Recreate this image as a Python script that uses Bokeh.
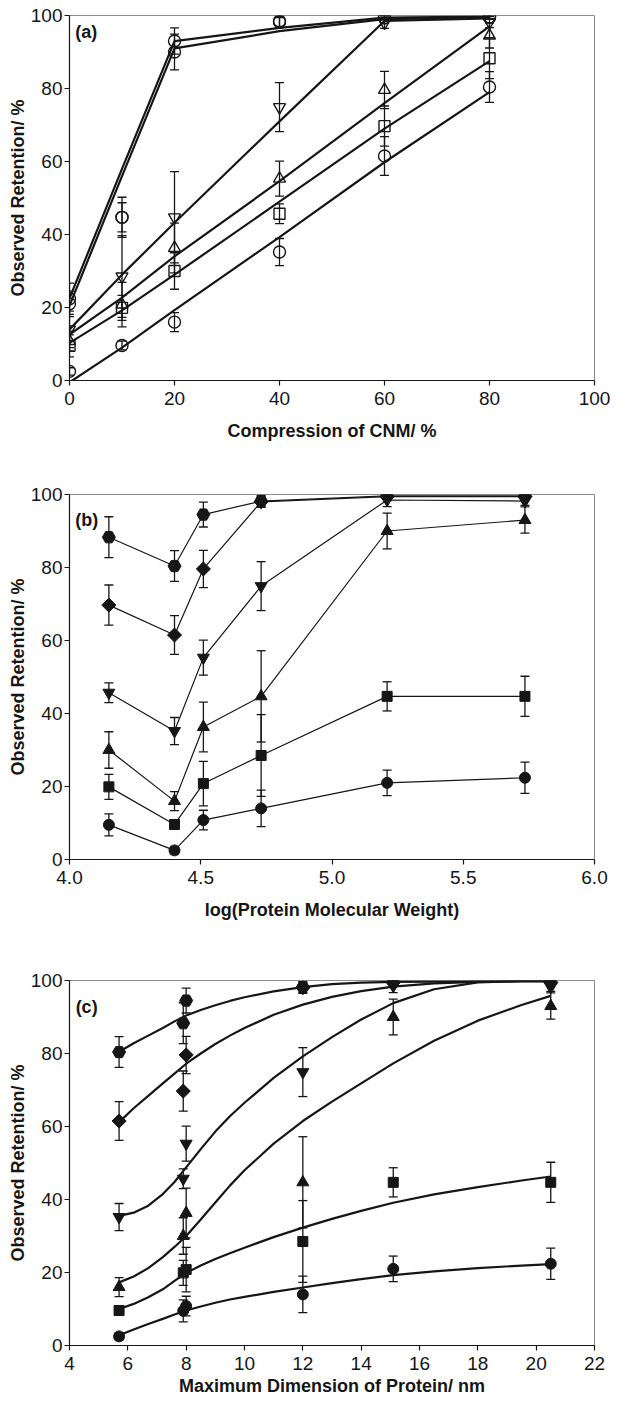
import numpy as np
from bokeh.plotting import figure
from bokeh.layouts import column
from bokeh.models import (Range1d, FixedTicker, PrintfTickFormatter, Whisker,
                          TeeHead, ColumnDataSource, Label)
from bokeh.embed import file_html
from bokeh.resources import INLINE

# ---------------- data ----------------
# six proteins
log_mw = [4.15, 4.40, 4.51, 4.73, 5.21, 5.735]
max_dim = [7.9, 5.7, 8.0, 12.0, 15.1, 20.5]
compression = [0, 10, 20, 40, 60, 80]

# observed retention [%] for each compression level, per protein
ret_c0 = [9.5, 2.5, 10.8, 14.0, 21.0, 22.4]
ret_c10 = [19.9, 9.6, 20.8, 28.5, 44.7, 44.7]
ret_c20 = [30.0, 16.0, 36.3, 44.7, 90.0, 93.0]
ret_c40 = [45.7, 35.2, 55.3, 74.9, 98.5, 98.2]
ret_c60 = [69.7, 61.5, 79.6, 98.0, 99.4, 99.4]
ret_c80 = [88.3, 80.4, 94.5, 98.2, 99.6, 99.6]

err_c0 = [3.0, 1.0, 2.7, 5.0, 3.5, 4.3]
err_c10 = [3.4, 1.2, 6.1, 11.2, 4.0, 5.5]
err_c20 = [5.0, 2.6, 6.8, 12.5, 4.9, 3.6]
err_c40 = [2.7, 3.7, 4.8, 6.7, 1.8, 1.2]
err_c60 = [5.5, 5.3, 5.1, 1.5, 0.6, 0.6]
err_c80 = [5.6, 4.2, 3.4, 1.5, 0.6, 0.6]

# panel (a): fitted lines per protein, evaluated at the compression levels
fit_a_p1 = [10.3, 19.2, 29.0, 49.0, 69.0, 87.5]
fit_a_p2 = [-0.5, 9.0, 19.3, 39.3, 59.8, 79.0]
fit_a_p3 = [12.6, 22.7, 34.0, 54.6, 76.0, 97.0]
fit_a_p4 = [14.0, 29.0, 43.2, 71.0, 98.5, 99.2]
fit_a_p5 = [20.5, 56.0, 91.0, 95.7, 99.0, 99.5]
fit_a_p6 = [22.5, 58.0, 93.0, 96.6, 99.4, 99.7]

# panel (c): fitted curves per compression level
fit_c_x = [5.7, 6.2, 6.7, 7.2, 7.6, 8.0, 8.5, 9.0, 9.5, 10.0, 11.0, 12.0, 13.0,
           14.0, 15.1, 16.5, 18.0, 19.5, 20.5]
fit_c_c0 = [2.8, 4.4, 5.9, 7.3, 8.5, 9.6, 10.7, 11.7, 12.6, 13.3, 14.7, 15.9, 17.1,
            18.2, 19.3, 20.3, 21.2, 21.9, 22.3]
fit_c_c10 = [10.0, 11.4, 13.2, 15.4, 17.7, 19.9, 21.9, 23.7, 25.3, 26.8, 29.7, 32.3, 34.7,
             36.9, 39.1, 41.4, 43.4, 45.2, 46.3]
fit_c_c20 = [17.3, 18.9, 21.2, 24.2, 27.0, 30.0, 34.5, 39.2, 43.8, 48.0, 55.3, 61.5, 66.8,
             71.8, 77.3, 83.5, 89.0, 93.3, 95.8]
fit_c_c40 = [35.5, 36.4, 38.3, 41.5, 44.8, 48.8, 53.8, 58.6, 62.8, 66.5, 73.3, 79.2, 84.5,
             89.3, 93.8, 97.6, 99.5, 99.8, 99.8]
fit_c_c60 = [61.2, 65.0, 68.4, 71.8, 74.5, 77.2, 80.0, 82.6, 84.9, 87.0, 90.6, 93.4, 95.5,
             97.1, 98.3, 99.2, 99.6, 99.8, 99.8]
fit_c_c80 = [80.5, 82.8, 84.9, 87.0, 88.8, 90.4, 91.9, 93.2, 94.4, 95.4, 97.0, 98.2, 99.0,
             99.4, 99.6, 99.7, 99.8, 99.8, 99.8]

y_ticks = [0, 20, 40, 60, 80, 100]
x_ticks_a = [0, 20, 40, 60, 80, 100]
x_ticks_b = [4.0, 4.5, 5.0, 5.5, 6.0]
x_ticks_c = [4, 6, 8, 10, 12, 14, 16, 18, 20, 22]

# ---------------- styling ----------------
FONT = "Liberation Sans"
INK = "#161616"
TICK_SIZE = "19px"
TITLE_SIZE = "18px"

rets = [ret_c0, ret_c10, ret_c20, ret_c40, ret_c60, ret_c80]
errs = [err_c0, err_c10, err_c20, err_c40, err_c60, err_c80]
markers_c = [("circle", 11, 0), ("square", 10, 0), ("triangle", 12, 0),
             ("inverted_triangle", 12, 0), ("square", 10, np.pi / 4), ("hex", 13, 0)]
markers_p = [("square", 11, 0), ("circle", 12, 0), ("triangle", 12, 0),
             ("inverted_triangle", 12, 0), ("circle", 12, 0), ("circle", 12, 0)]


def make_fig(height, top, bottom, xr, xticks, xlabel, label_standoff, fmt=None):
    p = figure(width=610, height=height, output_backend="svg", toolbar_location=None,
               x_range=Range1d(*xr), y_range=Range1d(0, 100),
               min_border_left=69, min_border_right=16,
               min_border_top=top, min_border_bottom=bottom)
    p.grid.visible = False
    p.outline_line_color = "#8c8c8c"
    p.outline_line_width = 1
    p.background_fill_color = "white"
    p.border_fill_color = "white"
    p.xaxis.ticker = FixedTicker(ticks=xticks)
    p.yaxis.ticker = FixedTicker(ticks=y_ticks)
    if fmt:
        p.xaxis.formatter = PrintfTickFormatter(format=fmt)
    for ax in (p.xaxis[0], p.yaxis[0]):
        ax.axis_line_color = INK
        ax.axis_line_width = 1.2
        ax.major_tick_line_color = INK
        ax.major_tick_line_width = 1.2
        ax.major_tick_out = 5
        ax.major_tick_in = 0
        ax.minor_tick_line_color = None
        ax.major_label_text_font = FONT
        ax.major_label_text_font_size = TICK_SIZE
        ax.major_label_text_color = INK
        ax.axis_label_text_font = FONT
        ax.axis_label_text_font_style = "bold"
        ax.axis_label_text_font_size = TITLE_SIZE
        ax.axis_label_text_color = INK
    p.xaxis.major_label_standoff = 6
    p.yaxis.major_label_standoff = 2
    p.xaxis.axis_label = xlabel
    p.xaxis.axis_label_standoff = label_standoff
    p.yaxis.axis_label = "Observed Retention/ %"
    p.yaxis.axis_label_standoff = 0
    return p


def add_errors(p, xs, ys, es, width=1.3):
    src = ColumnDataSource(dict(x=xs, upper=[y + e for y, e in zip(ys, es)],
                                lower=[y - e for y, e in zip(ys, es)]))
    w = Whisker(base="x", upper="upper", lower="lower", source=src,
                line_color=INK, line_width=width,
                upper_head=TeeHead(size=9, line_color=INK, line_width=width),
                lower_head=TeeHead(size=9, line_color=INK, line_width=width))
    p.add_layout(w)


def add_label(p, x, y, txt):
    p.add_layout(Label(x=x, y=y, text=txt, text_font=FONT, text_font_style="bold",
                       text_font_size="18px", text_color=INK, text_baseline="middle"))


# ---------------- panel (a) ----------------
pa = make_fig(462, 15, 82, (0, 100), x_ticks_a, "Compression of CNM/ %", 13)
fits_a = [fit_a_p1, fit_a_p2, fit_a_p3, fit_a_p4, fit_a_p5, fit_a_p6]
for j in range(6):
    pa.line(compression, fits_a[j], line_color=INK, line_width=2.2)
for j in range(6):
    ys = [rets[i][j] for i in range(6)]
    es = [errs[i][j] for i in range(6)]
    add_errors(pa, compression, ys, es)
for j in range(6):
    ys = [rets[i][j] for i in range(6)]
    m, s, a = markers_p[j]
    pa.scatter(compression, ys, marker=m, size=s, angle=a, line_color=INK,
               line_width=1.4, fill_alpha=0)
add_label(pa, 1.1, 95.5, "(a)")

# ---------------- panel (b) ----------------
pb = make_fig(480, 32, 83, (4.0, 6.0), x_ticks_b, "log(Protein Molecular Weight)", 13, fmt="%.1f")
for i in range(6):
    pb.line(log_mw, rets[i], line_color=INK, line_width=1.2)
for i in range(6):
    add_errors(pb, log_mw, rets[i], errs[i])
for i in range(6):
    m, s, a = markers_c[i]
    pb.scatter(log_mw, rets[i], marker=m, size=s, angle=a, line_color=INK,
               fill_color=INK, line_width=1)
add_label(pb, 4.022, 93.1, "(b)")

# ---------------- panel (c) ----------------
pc = make_fig(461, 38, 58, (4, 22), x_ticks_c, "Maximum Dimension of Protein/ nm", 3)
fits_c = [fit_c_c0, fit_c_c10, fit_c_c20, fit_c_c40, fit_c_c60, fit_c_c80]
for i in range(6):
    pc.line(fit_c_x, fits_c[i], line_color=INK, line_width=2.2)
for i in range(6):
    add_errors(pc, max_dim, rets[i], errs[i])
for i in range(6):
    m, s, a = markers_c[i]
    pc.scatter(max_dim, rets[i], marker=m, size=s, angle=a, line_color=INK,
               fill_color=INK, line_width=1)
add_label(pc, 4.21, 92.7, "(c)")

layout = column(pa, pb, pc, spacing=0)
open("out.html", "w").write(file_html(layout, INLINE))
